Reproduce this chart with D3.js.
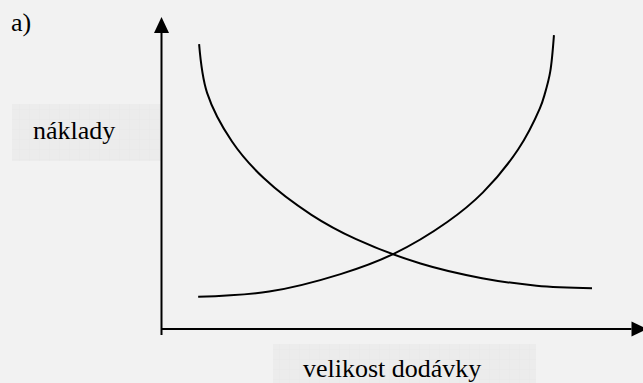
<!DOCTYPE html>
<html>
<head>
<meta charset="utf-8">
<script src="https://cdn.jsdelivr.net/npm/d3@7"></script>
<style>
  html, body { margin: 0; padding: 0; background: #f2f2f2; }
  svg { display: block; }
</style>
</head>
<body>
<svg id="chart" width="643" height="383"></svg>
<script>
// Relative units on both axes (0–100); only the shape of the curves matters.
const panelLabel = "a)";
const yTitle = "náklady";
const xTitle = "velikost dodávky";

// Rising cost curve (delivery size on x, cost on y)
const risingX = [7.8, 22.9, 38.1, 49.4, 60.8, 68.4, 75.9, 80.5, 81.6, 82.7, 83.5];
const risingY = [10.3, 12.0, 17.6, 24.1, 34.3, 43.8, 57.6, 70.7, 75.6, 82.4, 94.2];

// Falling cost curve
const fallingX = [8.0, 9.7, 15.0, 21.8, 31.9, 41.4, 55.1, 68.2, 79.8, 91.6];
const fallingY = [91.3, 75.7, 60.1, 48.3, 36.6, 28.8, 21.0, 16.3, 13.9, 13.1];

const svg = d3.select("#chart");
const serif = "'Liberation Serif', 'Times New Roman', Times, serif";

const x = d3.scaleLinear().domain([0, 100]).range([161.5, 631.5]);
const y = d3.scaleLinear().domain([0, 100]).range([329, 17]);

// Label backgrounds
const defs = svg.append("defs");
const pat = defs.append("pattern")
  .attr("id", "boxgrid").attr("patternUnits", "userSpaceOnUse")
  .attr("width", 10).attr("height", 10);
pat.append("rect").attr("width", 10).attr("height", 10).attr("fill", "#ececec");
pat.append("path").attr("d", "M10 0V10M0 10H10")
  .attr("stroke", "#e8e8e8").attr("stroke-width", 1).attr("fill", "none");

svg.append("rect").attr("x", 12).attr("y", 104).attr("width", x(0) - 12).attr("height", 57)
  .attr("fill", "url(#boxgrid)");
svg.append("rect").attr("x", 273).attr("y", 344).attr("width", 263).attr("height", 45)
  .attr("fill", "url(#boxgrid)");

// Axes
const axes = svg.append("g").attr("stroke", "#000").attr("stroke-width", 2);
axes.append("line")
  .attr("x1", x(0)).attr("x2", x(0))
  .attr("y1", y(0) + 6).attr("y2", y(100) + 16);
axes.append("line")
  .attr("x1", x(0)).attr("x2", x(100))
  .attr("y1", y(0)).attr("y2", y(0));

// Arrow heads
svg.append("path")
  .attr("d", `M${x(0)},${y(100)}L${x(0) - 7.5},${y(100) + 16}L${x(0) + 7.5},${y(100) + 16}Z`)
  .attr("fill", "#000");
svg.append("path")
  .attr("d", `M${x(100) + 16},${y(0)}L${x(100)},${y(0) - 7.5}L${x(100)},${y(0) + 7.5}Z`)
  .attr("fill", "#000");

// Curves
const line = d3.line()
  .x(d => x(d[0])).y(d => y(d[1]))
  .curve(d3.curveCatmullRom.alpha(0.5));

svg.append("path")
  .datum(d3.zip(risingX, risingY))
  .attr("d", line)
  .attr("fill", "none").attr("stroke", "#000").attr("stroke-width", 2);

svg.append("path")
  .datum(d3.zip(fallingX, fallingY))
  .attr("d", line)
  .attr("fill", "none").attr("stroke", "#000").attr("stroke-width", 2);

// Text
const txt = (tx, ty, s) => svg.append("text")
  .attr("x", tx).attr("y", ty)
  .attr("font-family", serif).attr("font-size", 26)
  .attr("fill", "#000").text(s);
txt(11, 31, panelLabel);
txt(33, 139, yTitle);
txt(303, 377, xTitle);
</script>
</body>
</html>
